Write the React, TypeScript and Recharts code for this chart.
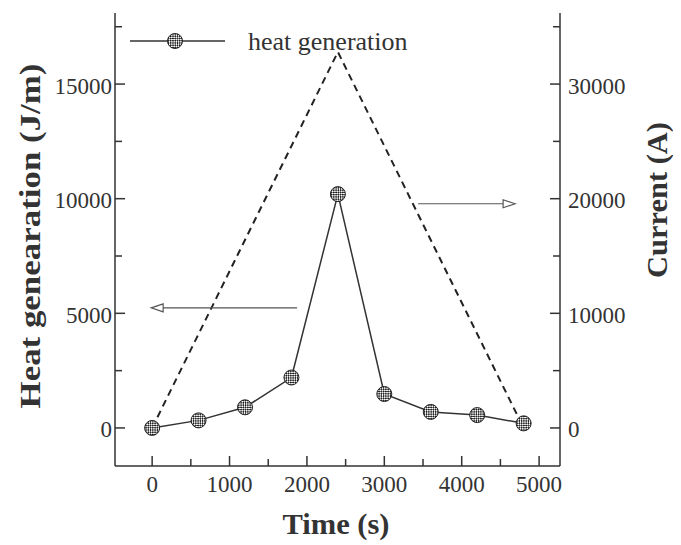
import React from 'react';
import { LineChart, Line, XAxis, YAxis, Legend, ReferenceLine } from 'recharts';

// heat generation per time step (left axis, J/m)
const timeSteps = [0, 600, 1200, 1800, 2400, 3000, 3600, 4200, 4800];
const heatValues = [0, 330, 900, 2200, 10200, 1480, 700, 560, 200];

// current profile (right axis, A)
const currentTimes = [0, 2400, 4800];
const currentValues = [0, 32800, 0];

const xTicks = [0, 500, 1000, 1500, 2000, 2500, 3000, 3500, 4000, 4500, 5000];
const leftTicks = [0, 2500, 5000, 7500, 10000, 12500, 15000, 17500];
const rightTicks = [0, 5000, 10000, 15000, 20000, 25000, 30000, 35000];

const heatData = timeSteps.map((t, i) => ({ time: t, heat: heatValues[i] }));
const currentData = currentTimes.map((t, i) => ({ time: t, current: currentValues[i] }));

const INK = '#333';
const FONT = '"Liberation Serif", "Times New Roman", serif';
const TICK_FONT = 23;
const LABEL_FONT = 30;

const BottomTick = (props: any) => {
  const { x, y, payload } = props;
  const major = payload.value % 1000 === 0;
  return (
    <g>
      <line x1={x} y1={y} x2={x} y2={y - (major ? 10 : 7)} stroke={INK} strokeWidth={1.5} />
      {major && (
        <text x={x} y={y + 18} textAnchor="middle" dominantBaseline="central" fontFamily={FONT} fontSize={TICK_FONT} fill={INK}>
          {payload.value}
        </text>
      )}
    </g>
  );
};

const TopTick = (props: any) => {
  const { x, y, payload } = props;
  const major = payload.value % 1000 === 0;
  return <line x1={x} y1={y} x2={x} y2={y + (major ? 10 : 7)} stroke={INK} strokeWidth={1.5} />;
};

const LeftTick = (props: any) => {
  const { x, y, payload } = props;
  const major = payload.value % 5000 === 0;
  return (
    <g>
      <line x1={x} y1={y} x2={x + (major ? 10 : 7)} y2={y} stroke={INK} strokeWidth={1.5} />
      {major && (
        <text x={x - 3} y={y + 2} textAnchor="end" dominantBaseline="central" fontFamily={FONT} fontSize={TICK_FONT} fill={INK}>
          {payload.value}
        </text>
      )}
    </g>
  );
};

const RightTick = (props: any) => {
  const { x, y, payload } = props;
  const major = payload.value % 10000 === 0;
  return (
    <g>
      <line x1={x} y1={y} x2={x - (major ? 10 : 7)} y2={y} stroke={INK} strokeWidth={1.5} />
      {major && (
        <text x={x + 8} y={y + 2} textAnchor="start" dominantBaseline="central" fontFamily={FONT} fontSize={TICK_FONT} fill={INK}>
          {payload.value}
        </text>
      )}
    </g>
  );
};

const HatchDot = (props: any) => {
  const { cx, cy, index } = props;
  if (cx == null || cy == null) return null;
  return <circle key={`dot-${index}`} cx={cx} cy={cy} r={7.5} fill="url(#checker)" stroke="#222" strokeWidth={1} />;
};

const Arrow = (props: any) => {
  const { x1, y1, x2, y2 } = props;
  const dir = x2 > x1 ? 1 : -1;
  const len = 12;
  const half = 4;
  return (
    <g>
      <line x1={x1} y1={y1} x2={x2 - dir * len} y2={y2} stroke="#555" strokeWidth={1.2} />
      <polygon
        points={`${x2},${y2} ${x2 - dir * len},${y2 - half} ${x2 - dir * len},${y2 + half}`}
        fill="#fff"
        stroke="#555"
        strokeWidth={1.2}
      />
    </g>
  );
};

const LegendBox = () => (
  <svg width={300} height={32}>
    <line x1={0} y1={15} x2={95} y2={15} stroke={INK} strokeWidth={1.5} />
    <circle cx={45} cy={15} r={7.5} fill="url(#checker)" stroke="#222" strokeWidth={1} />
    <text x={118} y={24} fontFamily={FONT} fontSize={26} fill={INK}>
      heat generation
    </text>
  </svg>
);

const axisTitle = (text: string, cx: number, cy: number, length: number, angle: number) => () => (
  <text
    x={cx}
    y={cy}
    transform={angle ? `rotate(${angle}, ${cx}, ${cy})` : undefined}
    textAnchor="middle"
    dominantBaseline="central"
    fontFamily={FONT}
    fontSize={LABEL_FONT}
    fontWeight="bold"
    fill={INK}
    textLength={length}
    lengthAdjust="spacingAndGlyphs"
  >
    {text}
  </text>
);

export default function App() {
  return (
    <div style={{ position: 'relative', width: 665, height: 537 }}>
      <svg width={0} height={0} style={{ position: 'absolute' }}>
        <defs>
          <pattern id="checker" width={3.2} height={3.2} patternUnits="userSpaceOnUse" patternTransform="rotate(45)">
            <rect width={3.2} height={3.2} fill="#f4f4f4" />
            <rect width={1.6} height={1.6} fill="#222" />
            <rect x={1.6} y={1.6} width={1.6} height={1.6} fill="#222" />
          </pattern>
        </defs>
      </svg>
      <LineChart width={665} height={537} margin={{ top: 5, right: 0, bottom: 0, left: 0 }}>
        <XAxis
          xAxisId="x"
          dataKey="time"
          type="number"
          domain={[-480, 5270]}
          ticks={xTicks}
          tick={<BottomTick />}
          tickSize={0}
          tickMargin={0}
          tickLine={false}
          axisLine={{ stroke: INK, strokeWidth: 1.5 }}
          height={79}
          allowDataOverflow
          label={{ content: axisTitle('Time (s)', 328, 515, 107, 0) }}
        />
        <XAxis
          xAxisId="top"
          orientation="top"
          dataKey="time"
          type="number"
          domain={[-480, 5270]}
          ticks={xTicks}
          tick={<TopTick />}
          tickSize={0}
          tickMargin={0}
          tickLine={false}
          axisLine={{ stroke: INK, strokeWidth: 1.5 }}
          height={0}
          allowDataOverflow
        />
        <YAxis
          yAxisId="left"
          type="number"
          domain={[-1660, 18100]}
          ticks={leftTicks}
          tick={<LeftTick />}
          tickSize={0}
          tickMargin={0}
          tickLine={false}
          axisLine={{ stroke: INK, strokeWidth: 1.5 }}
          width={107}
          allowDataOverflow
          label={{ content: axisTitle('Heat genearation (J/m)', 21, 228, 345, -90) }}
        />
        <YAxis
          yAxisId="right"
          orientation="right"
          type="number"
          domain={[-3320, 36200]}
          ticks={rightTicks}
          tick={<RightTick />}
          tickSize={0}
          tickMargin={0}
          tickLine={false}
          axisLine={{ stroke: INK, strokeWidth: 1.5 }}
          width={113}
          allowDataOverflow
          label={{ content: axisTitle('Current (A)', 648, 192, 156, -90) }}
        />
        <Legend
          layout="horizontal"
          verticalAlign="middle"
          align="center"
          content={<LegendBox />}
          wrapperStyle={{ top: 18, left: 122, width: 300, height: 32 }}
        />
        <Line
          xAxisId="x"
          yAxisId="right"
          data={currentData}
          dataKey="current"
          stroke="#222"
          strokeWidth={2}
          strokeDasharray="7 5"
          dot={false}
          legendType="none"
          isAnimationActive={false}
        />
        <Line
          xAxisId="x"
          yAxisId="left"
          data={heatData}
          dataKey="heat"
          stroke={INK}
          strokeWidth={1.5}
          dot={<HatchDot />}
          isAnimationActive={false}
        />
        <ReferenceLine
          xAxisId="x"
          yAxisId="left"
          segment={[{ x: 1873, y: 5240 }, { x: -13, y: 5240 }]}
          shape={<Arrow />}
        />
        <ReferenceLine
          xAxisId="x"
          yAxisId="left"
          segment={[{ x: 3437, y: 9780 }, { x: 4690, y: 9780 }]}
          shape={<Arrow />}
        />
      </LineChart>
    </div>
  );
}
